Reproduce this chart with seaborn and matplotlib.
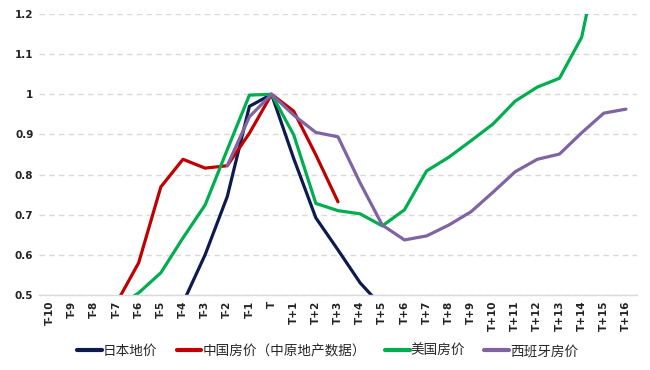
import numpy as np
import pandas as pd
import matplotlib
matplotlib.use('Agg')
import matplotlib.pyplot as plt
import seaborn as sns
from matplotlib.ticker import FuncFormatter

# categories
periods = [f'T-{i}' for i in range(10, 0, -1)] + ['T'] + [f'T+{i}' for i in range(1, 17)]
nan = np.nan

# values (index = periods)
japan = [nan, nan, nan, nan, nan, 0.40, 0.48, 0.60, 0.745, 0.97, 1.0,
         0.84, 0.692, 0.612, 0.53, 0.47] + [nan] * 11
china = [nan, nan, nan, 0.48, 0.58, 0.769, 0.838, 0.816, 0.822, 0.903, 1.0,
         0.958, 0.849, 0.732] + [nan] * 13
usa = [nan, nan, nan, 0.47, 0.505, 0.555, 0.642, 0.724, 0.862, 0.998, 1.0,
       0.899, 0.728, 0.71, 0.702, 0.672, 0.712, 0.809, 0.843, 0.884, 0.926,
       0.983, 1.018, 1.04, 1.142, 1.40, 1.45]
spain = [nan] * 8 + [0.822, 0.944, 1.0, 0.948, 0.905, 0.894, 0.779, 0.674,
                     0.637, 0.647, 0.674, 0.707, 0.756, 0.807, 0.838, 0.851,
                     0.904, 0.953, 0.963]

series_names = ['日本地价', '中国房价（中原地产数据）', '美国房价', '西班牙房价']
series_vals = [japan, china, usa, spain]
colors = ['#0C1A4E', '#C00000', '#00AE4F', '#8064A2']

rows = []
for name, vals in zip(series_names, series_vals):
    for i, v in enumerate(vals):
        rows.append({'pos': i, 'value': v, 'series': name})
df = pd.DataFrame(rows).dropna()

sns.set_theme(style='white')
plt.rcParams['font.family'] = ['Noto Sans CJK SC', 'DejaVu Sans']

fig, ax = plt.subplots(figsize=(6.5, 3.7), dpi=100)
fig.subplots_adjust(left=0.06, right=0.98, top=0.962, bottom=0.203)

sns.lineplot(data=df, x='pos', y='value', hue='series', hue_order=series_names,
             palette=colors, linewidth=2.3, ax=ax, estimator=None, sort=True)

ax.set_xlim(-0.5, len(periods) - 0.5)
ax.set_ylim(0.5, 1.2)
ax.set_yticks(np.arange(0.5, 1.21, 0.1))
ax.yaxis.set_major_formatter(FuncFormatter(lambda v, p: f'{v:g}'))
ax.set_xticks(range(len(periods)))
ax.set_xticklabels(periods, rotation=90)
ax.set_xlabel('')
ax.set_ylabel('')
for lab in ax.get_xticklabels() + ax.get_yticklabels():
    lab.set_fontfamily('DejaVu Sans')
    lab.set_fontweight('bold')
    lab.set_fontsize(7.5)
    lab.set_color('#222222')
ax.tick_params(axis='both', length=0, pad=4)

ax.yaxis.grid(True, linestyle=(0, (4, 3)), color='#D9D9D9', linewidth=1)
ax.set_axisbelow(True)
for side in ['left', 'right', 'top']:
    ax.spines[side].set_visible(False)
ax.spines['bottom'].set_color('#D9D9D9')
ax.spines['bottom'].set_linewidth(1)

leg = ax.legend(loc='center', bbox_to_anchor=(0.483, -0.2), ncol=4, frameon=False,
                fontsize=9.8, handlelength=1.8, handletextpad=0.1, columnspacing=1.4)
for line in leg.get_lines():
    line.set_linewidth(3)

fig.savefig('out.png', dpi=100)
